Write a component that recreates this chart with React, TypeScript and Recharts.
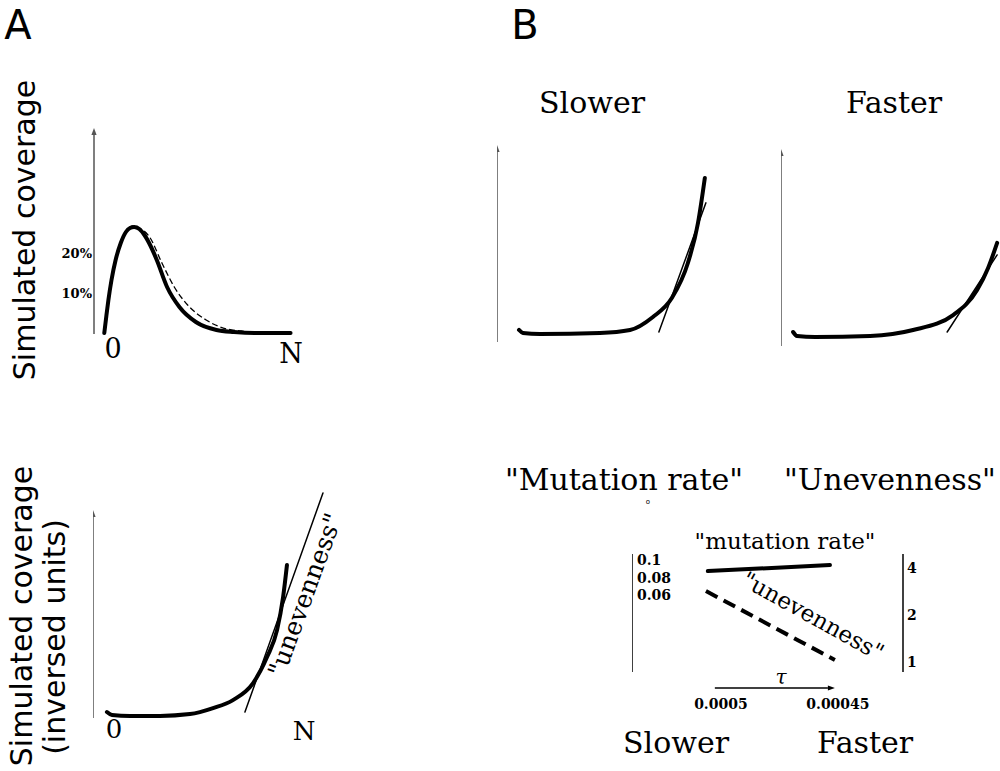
import React from 'react'
import { LineChart, Line, XAxis, YAxis, ReferenceLine } from 'recharts'

const SERIF = '"DejaVu Serif", serif'
const SANS = '"DejaVu Sans", sans-serif'
const ZERO = { top: 0, right: 0, bottom: 0, left: 0 }
const AXIS_GREY = '#555'

// A (top): simulated coverage profile, % of sites
const peakSolid = [
  { x: 5, y: 0 }, { x: 6, y: 4.25 }, { x: 7, y: 8.25 }, { x: 8.5, y: 13.25 },
  { x: 10.5, y: 18.25 }, { x: 13, y: 22.5 }, { x: 15.5, y: 25.25 }, { x: 17.5, y: 26.25 },
  { x: 19.5, y: 26.5 }, { x: 22, y: 26 }, { x: 24.5, y: 24.5 }, { x: 27.5, y: 21.75 },
  { x: 30.5, y: 18.25 }, { x: 35.5, y: 11.5 }, { x: 41.5, y: 6.5 }, { x: 49.5, y: 2.75 },
  { x: 59.5, y: 0.75 }, { x: 68, y: 0.25 }, { x: 78, y: 0 }, { x: 95.5, y: 0 },
]
const peakDashed = [
  { x: 5, y: 0 }, { x: 7, y: 8.25 }, { x: 9, y: 14.5 }, { x: 13, y: 22.5 },
  { x: 16, y: 25.75 }, { x: 19, y: 26.75 }, { x: 22, y: 26.25 }, { x: 27, y: 24 },
  { x: 33, y: 17.5 }, { x: 39, y: 11.5 }, { x: 45.5, y: 7 }, { x: 54.5, y: 3.25 },
  { x: 64.5, y: 1 }, { x: 71.5, y: 0.5 }, { x: 78, y: 0 },
]
const peakTicks = [10, 20]

// A (bottom): inversed coverage and its tangent
const invCurve = [
  { x: 5.8, y: 2.6 }, { x: 7.9, y: 1.3 }, { x: 15.4, y: 0.9 }, { x: 27.9, y: 0.9 },
  { x: 40.4, y: 1.7 }, { x: 50, y: 4.3 }, { x: 58.3, y: 7.8 }, { x: 66.7, y: 15.2 },
  { x: 72.5, y: 26.5 }, { x: 76.7, y: 38.3 }, { x: 79.2, y: 52.6 }, { x: 80.8, y: 66.5 },
]
const invTangent = [{ x: 63.3, y: 2.6 }, { x: 95.8, y: 97.8 }]

// B (top): slower vs faster
const slowerCurve = [
  { x: 10, y: 6.1 }, { x: 11.8, y: 4.6 }, { x: 19.5, y: 4.1 }, { x: 46.8, y: 4.6 },
  { x: 60.5, y: 6.1 }, { x: 70.9, y: 12.7 }, { x: 79.5, y: 22.3 }, { x: 86.8, y: 40.1 },
  { x: 91.4, y: 60.4 }, { x: 94.5, y: 83.2 },
]
const slowerTangent = [{ x: 73.6, y: 5.1 }, { x: 95, y: 70.6 }]
const fasterCurve = [
  { x: 5.5, y: 7.1 }, { x: 7.3, y: 5.1 }, { x: 15.5, y: 4.6 }, { x: 40.5, y: 5.1 },
  { x: 60, y: 8.1 }, { x: 78.2, y: 15.7 }, { x: 89.1, y: 28.4 }, { x: 94.1, y: 39.6 },
  { x: 98.2, y: 52.3 },
]
const fasterTangent = [{ x: 75.5, y: 7.1 }, { x: 98.2, y: 46.2 }]

// B (bottom): estimates vs tau
const tauTicks = [0.0005, 0.00045]
const rateTicks = [0.06, 0.08, 0.1]
const unevenTicks = [1, 2, 4]
const mutationRate = [{ tau: 0.0005056, rate: 0.0874 }, { tau: 0.0004534, rate: 0.0943 }]
const unevenness = [{ tau: 0.0005064, u: 2.85 }, { tau: 0.0004513, u: 1.03 }]

const BOLD_TICK = { fontFamily: SERIF, fontWeight: 700, fontSize: 14, fill: '#000' }

function arrow(color: string, width = 1.5) {
  return (p: any) => {
    const { x1, y1, x2, y2 } = p
    const a = Math.atan2(y2 - y1, x2 - x1)
    const L = 7, W = 2.6
    const bx = x2 - L * Math.cos(a)
    const by = y2 - L * Math.sin(a)
    const pts = `${x2},${y2} ${bx + W * Math.sin(a)},${by - W * Math.cos(a)} ${bx - W * Math.sin(a)},${by + W * Math.cos(a)}`
    return (
      <g>
        <line x1={x1} y1={y1} x2={bx} y2={by} stroke={color} strokeWidth={width} />
        <polygon points={pts} fill={color} />
      </g>
    )
  }
}

function Box({ left, top, children }: { left: number; top: number; children: React.ReactNode }) {
  return <div style={{ position: 'absolute', left, top }}>{children}</div>
}

function Curve({ data, thin, dash, yAxisId, dataKey = 'y' }: any) {
  return (
    <Line
      data={data}
      dataKey={dataKey}
      yAxisId={yAxisId ?? 0}
      type={thin ? 'linear' : 'monotone'}
      stroke="#000"
      strokeWidth={thin ? 1.5 : 4}
      strokeDasharray={dash}
      strokeLinecap="round"
      dot={false}
      activeDot={false}
      isAnimationActive={false}
    />
  )
}

function Exponential({ xMax, yMin, yMax, arrowTop, curve, tangent, width, height }: any) {
  return (
    <LineChart width={width} height={height} margin={ZERO}>
      <XAxis type="number" dataKey="x" domain={[0, xMax]} hide allowDataOverflow />
      <YAxis type="number" domain={[yMin, yMax]} hide allowDataOverflow />
      <ReferenceLine segment={[{ x: 0, y: 0 }, { x: 0, y: arrowTop }]} ifOverflow="visible" shape={arrow(AXIS_GREY)} />
      <Curve data={tangent} thin />
      <Curve data={curve} />
    </LineChart>
  )
}

function Labels() {
  const t = (x: number, y: number, s: string, size: number, family = SERIF, extra: any = {}) => (
    <text x={x} y={y} fontSize={size} fontFamily={family} textAnchor="middle" fill="#000" {...extra}>{s}</text>
  )
  return (
    <svg width={1000} height={771} style={{ position: 'absolute', left: 0, top: 0, pointerEvents: 'none' }}>
      {t(18, 39, 'A', 40, SANS)}
      {t(525, 39, 'B', 40, SANS)}
      {t(35, 230, 'Simulated coverage', 30, SANS, { transform: 'rotate(-90 35 230)' })}
      {t(32, 616, 'Simulated coverage', 30, SANS, { transform: 'rotate(-90 32 616)' })}
      {t(65, 637, '(inversed units)', 30, SANS, { transform: 'rotate(-90 65 637)' })}
      {t(113, 358, '0', 27)}
      {t(291, 363, 'N', 27)}
      {t(114, 738, '0', 26)}
      {t(304, 740, 'N', 26)}
      {t(305, 595, '"unevenness"', 25, SERIF, { dominantBaseline: 'central', transform: 'rotate(-70 305 595)' })}
      {t(592, 113, 'Slower', 30)}
      {t(894, 113, 'Faster', 30)}
      {t(624, 490, '"Mutation rate"', 30)}
      {t(890, 490, '"Unevenness"', 30)}
      {t(648, 504, 'o', 7, SANS)}
      {t(785, 549, '"mutation rate"', 23)}
      {t(813, 616, '"unevenness"', 23, SERIF, { dominantBaseline: 'central', transform: 'rotate(29 813 616)' })}
      {t(781, 684, 'τ', 20, SERIF, { fontStyle: 'italic' })}
      {t(676, 753, 'Slower', 30)}
      {t(865, 753, 'Faster', 30)}
    </svg>
  )
}

export default function App() {
  return (
    <div style={{ position: 'absolute', left: 0, top: 0, width: 1000, height: 771, overflow: 'hidden', background: '#fff' }}>
      <Box left={54} top={122}>
        <LineChart width={252} height={218} margin={ZERO}>
          <XAxis type="number" dataKey="x" domain={[0, 103]} hide allowDataOverflow />
          <YAxis
            type="number"
            domain={[-1.75, 52.75]}
            ticks={peakTicks}
            tickFormatter={(v) => `${v}%`}
            width={40}
            axisLine={false}
            tickLine={false}
            tickSize={0}
            tickMargin={2}
            tick={{ ...BOLD_TICK, fontSize: 13 }}
            interval={0}
            allowDataOverflow
          />
          <ReferenceLine segment={[{ x: 0, y: -0.25 }, { x: 0, y: 51.25 }]} ifOverflow="visible" shape={arrow(AXIS_GREY)} />
          <Line data={peakDashed} dataKey="y" type="monotone" stroke="#000" strokeWidth={1.3} strokeDasharray="6 3" dot={false} activeDot={false} isAnimationActive={false} />
          <Curve data={peakSolid} />
        </LineChart>
      </Box>

      <Box left={93} top={482}>
        <Exponential width={247} height={242} xMax={102.9} yMin={-2.6} yMax={102.6} arrowTop={90.4} curve={invCurve} tangent={invTangent} />
      </Box>

      <Box left={497} top={140}>
        <Exponential width={223} height={206} xMax={101.4} yMin={-2.03} yMax={102.5} arrowTop={100} curve={slowerCurve} tangent={slowerTangent} />
      </Box>

      <Box left={781} top={144}>
        <Exponential width={219} height={206} xMax={99.5} yMin={-2.03} yMax={102.5} arrowTop={100} curve={fasterCurve} tangent={fasterTangent} />
      </Box>

      <Box left={632} top={544}>
        <LineChart width={301} height={172} margin={{ top: 10, right: 0, bottom: 0, left: 0 }}>
          <XAxis
            type="number"
            dataKey="tau"
            domain={[0.0004222, 0.000538]}
            reversed
            allowDataOverflow
            ticks={tauTicks}
            interval={0}
            height={44}
            axisLine={false}
            tickLine={false}
            tickSize={0}
            tickMargin={27}
            tick={BOLD_TICK}
          />
          <YAxis
            yAxisId="rate"
            type="number"
            mirror
            domain={[-0.028, 0.1069]}
            ticks={rateTicks}
            interval={0}
            allowDataOverflow
            axisLine={{ stroke: '#000', strokeWidth: 1.5 }}
            tickLine={false}
            tickSize={0}
            tickMargin={5}
            tick={BOLD_TICK}
          />
          <YAxis
            yAxisId="uneven"
            type="number"
            orientation="right"
            scale="log"
            domain={[0.863, 4.92]}
            ticks={unevenTicks}
            interval={0}
            allowDataOverflow
            width={30}
            axisLine={{ stroke: '#000', strokeWidth: 1.5 }}
            tickLine={false}
            tickSize={0}
            tickMargin={4}
            tick={BOLD_TICK}
          />
          <ReferenceLine
            yAxisId="rate"
            segment={[{ x: 0.0005026, y: -0.0463 }, { x: 0.0004513, y: -0.0463 }]}
            ifOverflow="visible"
            shape={arrow('#000', 1.3)}
          />
          <Curve data={mutationRate} yAxisId="rate" dataKey="rate" thin={false} />
          <Line data={unevenness} yAxisId="uneven" dataKey="u" type="linear" stroke="#000" strokeWidth={4} strokeDasharray="13 7" dot={false} activeDot={false} isAnimationActive={false} />
        </LineChart>
      </Box>

      <Labels />
    </div>
  )
}
